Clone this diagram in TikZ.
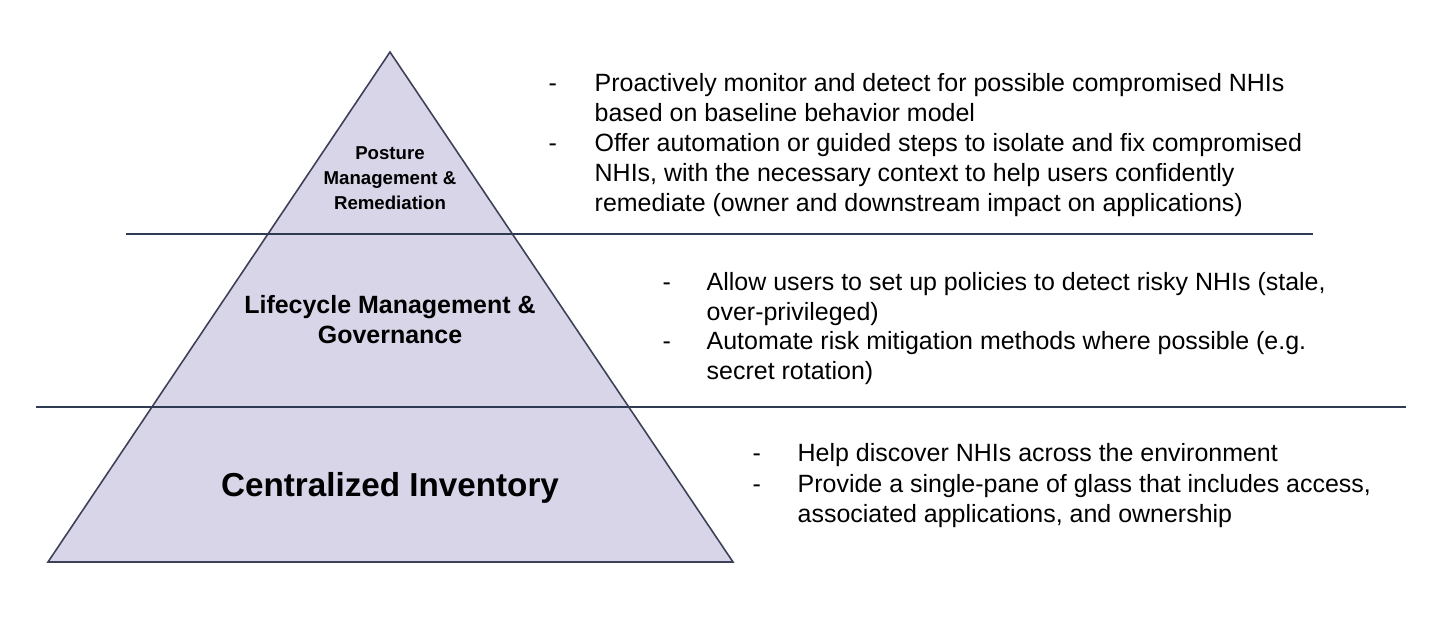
\documentclass[tikz,border=0pt]{standalone}
\usepackage{fontspec}
\setmainfont{Liberation Sans}
\usetikzlibrary{positioning}

\definecolor{pyrfill}{HTML}{D9D5E9}
\definecolor{pyrline}{HTML}{3C4158}
\definecolor{sepline}{HTML}{2E3B52}

\tikzset{
  pyramid/.style={fill=pyrfill, draw=pyrline, line width=0.45pt, line join=miter},
  layersep/.style={draw=sepline, line width=0.45pt},
  layertext/.style={anchor=base, align=center, inner sep=0pt, font=\bfseries},
  dashmark/.style={anchor=base west, inner sep=0pt, font=\fontsize{7.1}{8.5}\selectfont},
  bullettext/.style={anchor=base west, inner sep=0pt, align=left,
    font=\fontsize{7.1}{8.5}\selectfont},
}

\begin{document}
\begin{tikzpicture}
  [
    x=0.01cm, y=-0.01cm,
  ]
  \useasboundingbox (0,0) rectangle (1445,624);

  % pyramid
  \coordinate (apex) at (390,52);
  \coordinate (baseL) at (48,562);
  \coordinate (baseR) at (733,562);
  \draw [pyramid] (apex) -- (baseL) -- (baseR) -- cycle;

  % separators
  \coordinate (sepA1) at (126,234);
  \coordinate (sepA2) at (1313,234);
  \coordinate (sepB1) at (36,407);
  \coordinate (sepB2) at (1406,407);
  \draw [layersep] (sepA1) -- (sepA2);
  \draw [layersep] (sepB1) -- (sepB2);

  % layer names (base = last line)
  \node [layertext, font=\fontsize{5.3}{7.1}\selectfont\bfseries] (posture) at (390,209)
    {Posture\\Management \&\\Remediation};
  \node [layertext, font=\fontsize{7.1}{8.5}\selectfont\bfseries] (lifecycle) at (390,343)
    {Lifecycle Management \&\\Governance};
  \node [layertext, font=\fontsize{9.45}{11}\selectfont\bfseries] (inventory) at (390,496)
    {Centralized Inventory};

  % top block
  \node [dashmark] (dashA1) at (548,91) {-};
  \node [bullettext] (textA1) at (594,121)
    {Proactively monitor and detect for possible compromised NHIs\\
     based on baseline behavior model};
  \node [dashmark] (dashA2) at (548,151) {-};
  \node [bullettext] (textA2) at (594,211)
    {Offer automation or guided steps to isolate and fix compromised\\
     NHIs, with the necessary context to help users confidently\\
     remediate (owner and downstream impact on applications)};

  % middle block
  \node [dashmark] (dashB1) at (662,290) {-};
  \node [bullettext] (textB1) at (706,320)
    {Allow users to set up policies to detect risky NHIs (stale,\\
     over-privileged)};
  \node [dashmark] (dashB2) at (662,349) {-};
  \node [bullettext] (textB2) at (706,379)
    {Automate risk mitigation methods where possible (e.g.\\
     secret rotation)};

  % bottom block
  \node [dashmark] (dashC1) at (752,461) {-};
  \node [bullettext] (textC1) at (797,461)
    {Help discover NHIs across the environment};
  \node [dashmark] (dashC2) at (752,492) {-};
  \node [bullettext] (textC2) at (797,522)
    {Provide a single-pane of glass that includes access,\\
     associated applications, and ownership};

\end{tikzpicture}
\end{document}
